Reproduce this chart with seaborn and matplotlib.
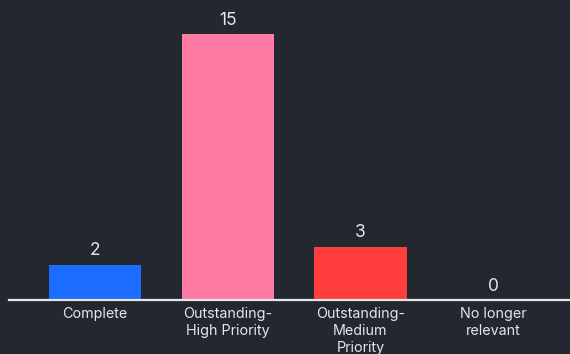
import matplotlib
matplotlib.use("Agg")
import matplotlib.pyplot as plt
import seaborn as sns
import pandas as pd

categories = ["Complete", "Outstanding-\nHigh Priority", "Outstanding-\nMedium\nPriority", "No longer\nrelevant"]
counts = [2, 15, 3, 0]
colors = ["#1c6dff", "#ff7ba3", "#ff3d3d", "#7a7a7a"]

bg = "#23272f"
fg = "#e6e6ea"

sns.set_theme(style="dark")
plt.rcParams["font.family"] = ["Inter", "DejaVu Sans"]

df = pd.DataFrame({"category": categories, "count": counts})

fig = plt.figure(figsize=(5.7, 3.54), dpi=100, facecolor=bg)
ax = fig.add_axes([9 / 570, 54 / 354, 1 - 9 / 570, 300 / 354])
ax.set_facecolor(bg)

sns.barplot(data=df, x="category", y="count", hue="category", palette=colors,
            width=0.695, legend=False, ax=ax, saturation=1, linewidth=0,
            edgecolor="none")

for i, v in enumerate(counts):
    ax.text(i, v + 0.3, str(v), ha="center", va="bottom", color=fg, fontsize=12.5)

ax.set_xlim(-0.649, 3.58)
ax.set_ylim(0, 16.92)
ax.set_xlabel("")
ax.set_ylabel("")
ax.set_yticks([])
ax.tick_params(axis="x", length=0, pad=5, labelsize=10.3, labelcolor=fg)
for lbl in ax.get_xticklabels():
    lbl.set_linespacing(1.28)
for s in ["top", "right", "left"]:
    ax.spines[s].set_visible(False)
ax.spines["bottom"].set_color(fg)
ax.spines["bottom"].set_linewidth(1.6)
ax.grid(False)

fig.savefig("out.png", dpi=100, facecolor=bg)
